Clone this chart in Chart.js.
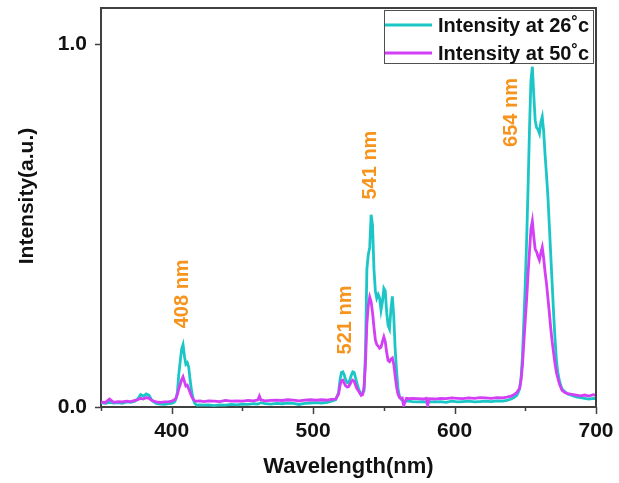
<!DOCTYPE html>
<html>
<head>
<meta charset="utf-8">
<script src="https://cdn.jsdelivr.net/npm/chart.js@4.4.1/dist/chart.umd.min.js"></script>
<style>
  html, body { margin: 0; padding: 0; background: #ffffff; }
  #wrap { width: 619px; height: 483px; position: relative; }
</style>
</head>
<body>
<div id="wrap"><canvas id="c" width="619" height="483"></canvas></div>
<script>
// ---- data ----
const wavelengths = [
  350,353,356,359,362,365,368,371,374,376,
  378,380,382,384,386,389,392,395,398,400,
  402,403,404,405,406,407,408,409,410,411,
  412,413,414,415,416,417,418,420,423,426,
  430,434,438,442,446,450,454,458,461,462,
  463,466,470,474,478,482,486,490,494,498,
  502,506,510,513,516,518,519,520,521,522,
  523,524,525,526,527,528,529,530,531,532,
  533,534,535,536,537,538,539,540,541,542,
  543,544,545,546,547,548,549,550,551,552,
  553,554,555,556,557,558,559,560,561,562,
  563,564,566,568,570,574,578,580,581,582,
  586,590,594,598,602,606,610,614,618,622,
  626,630,634,637,640,642,644,645,646,647,
  648,649,650,651,652,653,654,655,656,657,
  658,659,660,661,662,663,664,665,666,667,
  668,669,670,671,672,673,674,675,676,678,
  680,683,686,689,692,695,698,700
];
const intensity26 = [
  .012,.010,.013,.011,.012,.010,.014,.013,.016,.022,
  .034,.030,.036,.032,.018,.010,.008,.007,.009,.010,
  .014,.022,.040,.090,.125,.160,.172,.140,.118,.122,
  .110,.075,.046,.025,.012,.007,.005,.006,.005,.006,
  .004,.006,.005,.007,.006,.008,.007,.009,.008,.010,
  .012,.009,.008,.010,.009,.011,.010,.007,.010,.011,
  .012,.011,.013,.016,.020,.040,.075,.095,.097,.088,
  .075,.068,.066,.075,.088,.097,.095,.080,.065,.052,
  .042,.037,.039,.045,.150,.380,.420,.440,.530,.500,
  .380,.320,.300,.310,.300,.267,.290,.327,.320,.260,
  .225,.215,.270,.305,.250,.160,.100,.050,.030,.022,
  .018,.015,.017,.016,.015,.014,.015,.013,.013,.014,
  .014,.015,.013,.016,.014,.015,.016,.014,.015,.016,
  .015,.017,.016,.018,.022,.026,.032,.040,.050,.080,
  .140,.240,.340,.465,.610,.770,.900,.938,.860,.790,
  .770,.765,.754,.785,.800,.760,.695,.640,.580,.500,
  .420,.340,.260,.190,.130,.095,.075,.060,.050,.042,
  .036,.032,.028,.026,.024,.022,.024,.023
];
const intensity50 = [
  .014,.012,.022,.013,.015,.014,.016,.015,.018,.020,
  .024,.022,.026,.024,.018,.014,.013,.014,.015,.016,
  .020,.024,.035,.050,.062,.075,.083,.070,.058,.060,
  .050,.040,.030,.022,.018,.016,.016,.017,.015,.017,
  .016,.015,.018,.016,.017,.016,.018,.017,.020,.030,
  .020,.017,.018,.019,.018,.020,.019,.017,.019,.020,
  .019,.020,.019,.021,.022,.036,.060,.072,.074,.066,
  .058,.055,.056,.062,.070,.074,.071,.060,.050,.045,
  .038,.032,.034,.055,.120,.230,.280,.303,.290,.260,
  .220,.185,.172,.168,.162,.165,.180,.193,.180,.150,
  .128,.125,.132,.135,.118,.085,.055,.035,.026,.024,
  .025,.004,.024,.023,.024,.023,.022,.024,.004,.023,
  .022,.024,.023,.025,.024,.023,.025,.024,.026,.025,
  .024,.026,.025,.027,.030,.034,.040,.046,.052,.075,
  .115,.180,.240,.300,.370,.430,.490,.512,.470,.435,
  .428,.415,.405,.425,.440,.410,.372,.340,.300,.260,
  .217,.180,.150,.120,.095,.080,.065,.055,.046,.040,
  .037,.035,.033,.031,.033,.030,.034,.032
];
const seriesLabels = ['Intensity at 26\u02DAc', 'Intensity at 50\u02DAc'];
const peakLabels = ['408 nm', '521 nm', '541 nm', '654 nm'];
const xTickLabels = [400, 500, 600, 700];
const yTickLabels = [0.0, 1.0];
const xTitle = 'Wavelength(nm)';
const yTitle = 'Intensity(a.u.)';

// ---- styles ----
const CYAN = '#1cc6c6';
const MAGENTA = '#d23ff5';
const ORANGE = '#f7941d';
const FONT = '"Liberation Sans", Arial, sans-serif';
const AXIS_COLOR = '#404040';

// label anchors (data space) for the peak annotations
const peakAnchors = [
  {x: 407.3, y: 0.312},
  {x: 522.6, y: 0.240},
  {x: 540.6, y: 0.667},
  {x: 640.0, y: 0.812}
];

const framePlugin = {
  id: 'frame',
  afterDatasetsDraw(chart) {
    const {ctx, chartArea: a, scales: {x, y}} = chart;
    ctx.save();
    ctx.strokeStyle = AXIS_COLOR;
    ctx.lineWidth = 2;
    ctx.beginPath();
    ctx.moveTo(a.left, a.top); ctx.lineTo(a.right, a.top); ctx.lineTo(a.right, a.bottom);
    ctx.stroke();
    ctx.lineWidth = 1.5;
    ctx.beginPath();
    for (let v = 350; v <= 700; v += 50) {
      const px = Math.round(x.getPixelForValue(v)) + 0.5;
      const len = (v % 100 === 0) ? 7 : 4;
      ctx.moveTo(px, a.bottom); ctx.lineTo(px, a.bottom + len);
    }
    yTickLabels.forEach(v => {
      const py = Math.round(y.getPixelForValue(v)) + 0.5;
      ctx.moveTo(a.left, py); ctx.lineTo(a.left - 6, py);
    });
    ctx.stroke();

    ctx.fillStyle = ORANGE;
    ctx.font = 'bold 20px ' + FONT;
    ctx.textAlign = 'center';
    ctx.textBaseline = 'middle';
    peakLabels.forEach((t, i) => {
      const px = x.getPixelForValue(peakAnchors[i].x);
      const py = y.getPixelForValue(peakAnchors[i].y);
      ctx.save();
      ctx.translate(px, py);
      ctx.rotate(-Math.PI / 2);
      ctx.fillText(t, 0, 0);
      ctx.restore();
    });

    const bw = 209, bh = 53;
    const bx = a.right - 3 - bw, by = a.top + 2;
    ctx.fillStyle = '#ffffff';
    ctx.fillRect(bx, by, bw, bh);
    ctx.strokeStyle = '#505050';
    ctx.lineWidth = 1;
    ctx.strokeRect(bx + 0.5, by + 0.5, bw, bh);
    ctx.font = 'bold 20px ' + FONT;
    ctx.textAlign = 'left';
    ctx.textBaseline = 'middle';
    chart.data.datasets.forEach((ds, i) => {
      const cy = by + 15 + i * 28;
      ctx.strokeStyle = ds.borderColor;
      ctx.lineWidth = 3;
      ctx.beginPath();
      ctx.moveTo(bx + 1, cy); ctx.lineTo(bx + 48, cy);
      ctx.stroke();
      ctx.fillStyle = '#111111';
      ctx.fillText(ds.label, bx + 54, cy + 1);
    });

    ctx.fillStyle = '#111111';
    ctx.font = 'bold 21px ' + FONT;
    ctx.textAlign = 'center';
    ctx.textBaseline = 'middle';
    ctx.save();
    ctx.translate(27, 196);
    ctx.rotate(-Math.PI / 2);
    ctx.fillText(yTitle, 0, 0);
    ctx.restore();
    ctx.restore();
  }
};

const toPoints = vals => wavelengths.map((w, i) => ({x: w, y: vals[i]}));
const noEdgePad = s => { s.paddingLeft = 0; s.paddingRight = 0; s.paddingTop = 0; s.paddingBottom = 0; };

new Chart(document.getElementById('c'), {
  type: 'line',
  data: {
    datasets: [
      {label: seriesLabels[0], data: toPoints(intensity26), borderColor: CYAN, backgroundColor: CYAN,
       borderWidth: 2.8, pointRadius: 0, tension: 0, order: 2},
      {label: seriesLabels[1], data: toPoints(intensity50), borderColor: MAGENTA, backgroundColor: MAGENTA,
       borderWidth: 2.8, pointRadius: 0, tension: 0, order: 1}
    ]
  },
  options: {
    responsive: false,
    animation: false,
    layout: {padding: {top: 8, right: 23, left: 0, bottom: 0}},
    plugins: {legend: {display: false}, tooltip: {enabled: false}},
    scales: {
      x: {
        type: 'linear', min: 350, max: 700,
        afterFit(s) { s.height = 76; noEdgePad(s); },
        grid: {display: false, drawTicks: false},
        border: {display: true, color: AXIS_COLOR, width: 2},
        ticks: {
          stepSize: 50, autoSkip: false, maxRotation: 0, padding: 12,
          color: '#111111', font: {family: FONT, size: 21, weight: 'bold'},
          callback: v => xTickLabels.includes(v) ? String(v) : ''
        },
        title: {display: true, text: xTitle, color: '#111111',
                font: {family: FONT, size: 22, weight: 'bold'}, padding: {top: 0, bottom: 3}}
      },
      y: {
        min: 0, max: 1.1,
        afterFit(s) { s.width = 101; noEdgePad(s); },
        grid: {display: false, drawTicks: false},
        border: {display: true, color: AXIS_COLOR, width: 2},
        ticks: {
          stepSize: 0.5, autoSkip: false, padding: 14,
          color: '#111111', font: {family: FONT, size: 21, weight: 'bold'},
          callback: v => yTickLabels.some(t => Math.abs(t - v) < 1e-9) ? v.toFixed(1) : ''
        }
      }
    }
  },
  plugins: [framePlugin]
});
</script>
</body>
</html>
